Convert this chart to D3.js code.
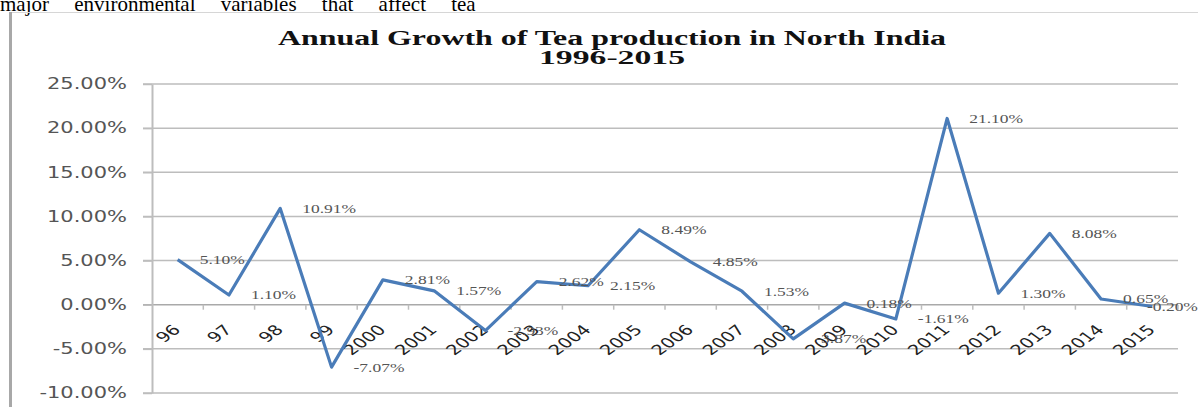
<!DOCTYPE html>
<html>
<head>
<meta charset="utf-8">
<script src="https://cdn.jsdelivr.net/npm/d3@7"></script>
<style>
  html, body { margin: 0; padding: 0; background: #fff; overflow: hidden; }
</style>
</head>
<body>
<svg id="chart" width="1198" height="407"></svg>
<script>
// data
const years = ['96', '97', '98', '99', '2000', '2001', '2002', '2003', '2004', '2005',
  '2006', '2007', '2008', '2009', '2010', '2011', '2012', '2013', '2014', '2015'];
const growth = [5.10, 1.10, 10.91, -7.07, 2.81, 1.57, -2.93, 2.62, 2.15, 8.49,
  4.85, 1.53, -3.87, 0.18, -1.61, 21.10, 1.30, 8.08, 0.65, -0.20];
const yTicks = [-10, -5, 0, 5, 10, 15, 20, 25];
const titleLines = ['Annual Growth of Tea production in North India', '1996-2015'];
const pageText = 'major environmental variables that affect tea';

const data = years.map((yr, i) => ({ year: yr, value: growth[i] }));

// the picture is stretched sideways, so glyphs get stretched too
const stretch = 1.4;

const svg = d3.select('#chart');

// text of the page above the figure
svg.append('text')
  .attr('x', 0)
  .attr('y', 11)
  .attr('font-family', 'Liberation Serif, Times New Roman, serif')
  .attr('font-size', 21)
  .attr('word-spacing', 20)
  .attr('fill', '#000')
  .text(pageText);

// frame of the figure
svg.append('line')
  .attr('x1', 10).attr('x2', 1198).attr('y1', 12.5).attr('y2', 12.5)
  .attr('stroke', '#d6d6d6').attr('stroke-width', 1);
svg.append('line')
  .attr('x1', 10.5).attr('x2', 10.5).attr('y1', 12).attr('y2', 407)
  .attr('stroke', '#a8a8a8').attr('stroke-width', 3);

// scales
const x = d3.scaleBand().domain(years).range([152, 1178]);
const y = d3.scaleLinear().domain([-10, 25]).range([393, 84]);
const cx = d => x(d) + x.bandwidth() / 2;

// title
svg.append('g')
  .selectAll('text')
  .data(titleLines)
  .enter()
  .append('text')
  .attr('x', 612)
  .attr('y', (d, i) => 45 + i * 19)
  .attr('text-anchor', 'middle')
  .attr('font-family', 'Liberation Serif, Times New Roman, serif')
  .attr('font-weight', 'bold')
  .attr('font-size', (d, i) => (i === 0 ? 20 : 19))
  .attr('textLength', (d, i) => (i === 0 ? 668 : 146))
  .attr('lengthAdjust', 'spacingAndGlyphs')
  .attr('fill', '#111')
  .text(d => d);

// gridlines
svg.append('g')
  .selectAll('line')
  .data(yTicks)
  .enter()
  .append('line')
  .attr('x1', 143)
  .attr('x2', 1178)
  .attr('y1', d => y(d))
  .attr('y2', d => y(d))
  .attr('stroke', d => (d === 0 ? '#a9a9a9' : '#bdbdbd'))
  .attr('stroke-width', 1.5);

// Y axis
const yAxis = svg.append('g')
  .attr('transform', 'translate(152,0)')
  .call(d3.axisLeft(y).tickValues(yTicks).tickSize(9).tickSizeOuter(0)
    .tickFormat(d => d.toFixed(2) + '%'));
yAxis.select('.domain').attr('stroke', '#bdbdbd').attr('stroke-width', 2);
yAxis.selectAll('.tick line').attr('stroke', '#bdbdbd').attr('stroke-width', 1.5);
yAxis.selectAll('.tick text')
  .attr('x', null)
  .attr('transform', 'translate(-25,0) scale(' + stretch + ',1)')
  .attr('font-family', 'DejaVu Sans, sans-serif')
  .attr('font-size', 15)
  .attr('fill', '#555');

// X axis small ticks on the zero line
svg.append('g')
  .selectAll('line')
  .data(years.slice(1).concat(['end']))
  .enter()
  .append('line')
  .attr('x1', d => (d === 'end' ? x.range()[1] : x(d)))
  .attr('x2', d => (d === 'end' ? x.range()[1] : x(d)))
  .attr('y1', y(0))
  .attr('y2', y(0) + 5)
  .attr('stroke', '#bdbdbd')
  .attr('stroke-width', 1.5);

// category labels
svg.append('g')
  .selectAll('text')
  .data(years)
  .enter()
  .append('text')
  .attr('transform', d => 'translate(' + (cx(d) + 4) + ',' + (y(0) + 26) + ') scale(' + stretch + ',1) rotate(-45)')
  .attr('text-anchor', 'end')
  .attr('font-family', 'DejaVu Sans, sans-serif')
  .attr('font-size', 14)
  .attr('fill', '#222')
  .text(d => d);

// the line
svg.append('path')
  .datum(data)
  .attr('fill', 'none')
  .attr('stroke', '#4a7cb8')
  .attr('stroke-width', 3.2)
  .attr('stroke-linejoin', 'round')
  .attr('d', d3.line().x(d => cx(d.year)).y(d => y(d.value)));

// data labels
const labels = svg.append('g')
  .selectAll('text')
  .data(data)
  .enter()
  .append('text')
  .attr('dy', '0.35em')
  .attr('font-family', 'Liberation Serif, Times New Roman, serif')
  .attr('font-size', 12.5)
  .attr('fill', '#555')
  .text(d => d.value.toFixed(2) + '%');

labels.attr('transform', function (d) {
  const w = this.getComputedTextLength() * stretch;
  const lx = Math.min(cx(d.year) + 22, 1198 - w);
  return 'translate(' + lx + ',' + y(d.value) + ') scale(' + stretch + ',1)';
});
</script>
</body>
</html>
